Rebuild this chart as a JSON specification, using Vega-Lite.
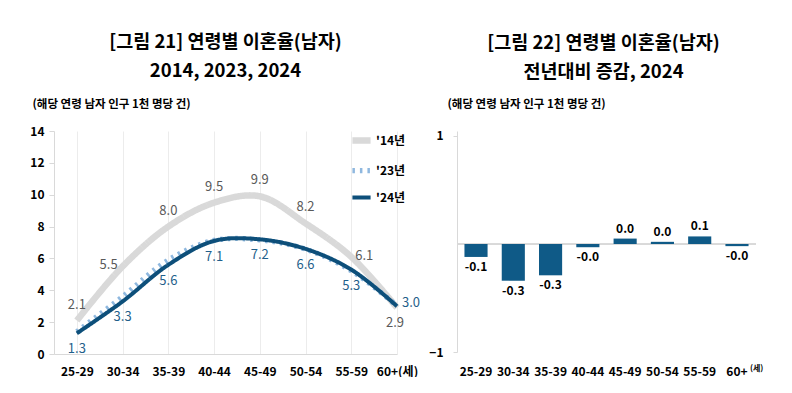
{
  "$schema": "https://vega.github.io/schema/vega-lite/v6.json",
  "background": "white",
  "padding": {"left": 29, "top": 32, "right": 0, "bottom": 0},
  "config": {
    "font": "Noto Sans CJK KR",
    "view": {"stroke": null},
    "concat": {"spacing": 7}
  },
  "datasets": {
    "rate": [
      {"age": "25-29", "year": "'14년", "v": 2.1},
      {"age": "30-34", "year": "'14년", "v": 5.5},
      {"age": "35-39", "year": "'14년", "v": 8.0},
      {"age": "40-44", "year": "'14년", "v": 9.5},
      {"age": "45-49", "year": "'14년", "v": 9.9},
      {"age": "50-54", "year": "'14년", "v": 8.2},
      {"age": "55-59", "year": "'14년", "v": 6.1},
      {"age": "60+", "year": "'14년", "v": 2.9},
      {"age": "25-29", "year": "'23년", "v": 1.4},
      {"age": "30-34", "year": "'23년", "v": 3.6},
      {"age": "35-39", "year": "'23년", "v": 5.9},
      {"age": "40-44", "year": "'23년", "v": 7.13},
      {"age": "45-49", "year": "'23년", "v": 7.16},
      {"age": "50-54", "year": "'23년", "v": 6.58},
      {"age": "55-59", "year": "'23년", "v": 5.23},
      {"age": "60+", "year": "'23년", "v": 3.02},
      {"age": "25-29", "year": "'24년", "v": 1.3},
      {"age": "30-34", "year": "'24년", "v": 3.3},
      {"age": "35-39", "year": "'24년", "v": 5.6},
      {"age": "40-44", "year": "'24년", "v": 7.1},
      {"age": "45-49", "year": "'24년", "v": 7.2},
      {"age": "50-54", "year": "'24년", "v": 6.6},
      {"age": "55-59", "year": "'24년", "v": 5.3},
      {"age": "60+", "year": "'24년", "v": 3.0}
    ],
    "diff": [
      {"age": "25-29", "d": -0.12, "label": "-0.1"},
      {"age": "30-34", "d": -0.34, "label": "-0.3"},
      {"age": "35-39", "d": -0.29, "label": "-0.3"},
      {"age": "40-44", "d": -0.03, "label": "-0.0"},
      {"age": "45-49", "d": 0.05, "label": "0.0"},
      {"age": "50-54", "d": 0.02, "label": "0.0"},
      {"age": "55-59", "d": 0.07, "label": "0.1"},
      {"age": "60+", "d": -0.02, "label": "-0.0"}
    ]
  },
  "hconcat": [
    {
      "width": 343,
      "height": 223,
      "title": {
        "text": ["[그림  21]  연령별  이혼율(남자)", "2014, 2023, 2024"],
        "fontSize": 18.5,
        "fontWeight": "bold",
        "color": "#000000",
        "lineHeight": 29,
        "offset": 18
      },
      "data": {"name": "rate"},
      "encoding": {
        "x": {
          "field": "age",
          "type": "ordinal",
          "sort": null,
          "scale": {"type": "point", "padding": 0.25, "align": 1},
          "axis": {
            "title": null,
            "labelAngle": 0,
            "ticks": false,
            "domainColor": "#d9d9d9",
            "grid": true,
            "gridColor": "#ececec",
            "labelFontSize": 12,
            "labelFontWeight": "bold",
            "labelColor": "#000000",
            "labelPadding": 12,
            "labelExpr": "datum.value == '60+' ? '60+(세)' : datum.value"
          }
        },
        "y": {
          "field": "v",
          "type": "quantitative",
          "scale": {"domain": [0, 14], "nice": false},
          "axis": {
            "values": [0, 2, 4, 6, 8, 10, 12, 14],
            "grid": false,
            "domainColor": "#d9d9d9",
            "tickColor": "#d9d9d9",
            "tickSize": 5,
            "labelFontSize": 12,
            "labelFontWeight": "bold",
            "labelColor": "#000000",
            "labelPadding": 5,
            "title": "(해당 연령 남자 인구 1천 명당 건)",
            "titleAngle": 0,
            "titleAlign": "left",
            "titleBaseline": "middle",
            "titleX": -22,
            "titleY": -27,
            "titleFontSize": 11.5,
            "titleFontWeight": "bold",
            "titleColor": "#000000"
          }
        }
      },
      "layer": [
        {
          "mark": {"type": "line", "interpolate": "catmull-rom", "strokeCap": "butt"},
          "encoding": {
            "color": {
              "field": "year",
              "type": "nominal",
              "scale": {"domain": ["'14년", "'23년", "'24년"], "range": ["#d9d9d9", "#8fb8df", "#0d4f7a"]},
              "legend": {
                "title": null,
                "orient": "none",
                "legendX": 295,
                "legendY": -3,
                "symbolType": "stroke",
                "symbolSize": 330,
                "labelFontSize": 12,
                "labelFontWeight": "bold",
                "labelColor": "#000000",
                "rowPadding": 4.5,
                "labelOffset": 2
              }
            },
            "strokeDash": {
              "field": "year",
              "type": "nominal",
              "scale": {"domain": ["'14년", "'23년", "'24년"], "range": [[1, 0], [2.5, 5], [1, 0]]},
              "legend": {
                "title": null,
                "orient": "none",
                "legendX": 295,
                "legendY": -3,
                "symbolType": "stroke",
                "symbolSize": 330,
                "labelFontSize": 12,
                "labelFontWeight": "bold",
                "labelColor": "#000000",
                "rowPadding": 4.5,
                "labelOffset": 2
              }
            },
            "strokeWidth": {
              "field": "year",
              "type": "nominal",
              "scale": {"domain": ["'14년", "'23년", "'24년"], "range": [6.5, 4, 5.5]},
              "legend": {
                "title": null,
                "orient": "none",
                "legendX": 295,
                "legendY": -3,
                "symbolType": "stroke",
                "symbolSize": 330,
                "labelFontSize": 12,
                "labelFontWeight": "bold",
                "labelColor": "#000000",
                "rowPadding": 4.5,
                "labelOffset": 2
              }
            }
          }
        },
        {
          "transform": [{"filter": "datum.year == \"'14년\" && datum.age != '30-34' && datum.age != '55-59' && datum.age != '60+'"}],
          "mark": {"type": "text", "dy": -16, "fontSize": 13, "color": "#595959"},
          "encoding": {"text": {"field": "v", "type": "quantitative", "format": ".1f"}}
        },
        {
          "transform": [{"filter": "datum.year == \"'14년\" && datum.age == '30-34'"}],
          "mark": {"type": "text", "dx": -14, "dy": -1, "fontSize": 13, "color": "#595959"},
          "encoding": {"text": {"field": "v", "type": "quantitative", "format": ".1f"}}
        },
        {
          "transform": [{"filter": "datum.year == \"'14년\" && datum.age == '55-59'"}],
          "mark": {"type": "text", "dx": 13, "dy": -1, "fontSize": 13, "color": "#595959"},
          "encoding": {"text": {"field": "v", "type": "quantitative", "format": ".1f"}}
        },
        {
          "transform": [{"filter": "datum.year == \"'14년\" && datum.age == '60+'"}],
          "mark": {"type": "text", "dx": -2, "dy": 15, "fontSize": 13, "color": "#595959"},
          "encoding": {"text": {"field": "v", "type": "quantitative", "format": ".1f"}}
        },
        {
          "transform": [{"filter": "datum.year == \"'24년\" && datum.age != '60+'"}],
          "mark": {"type": "text", "dy": 16, "fontSize": 13, "color": "#1f5f8b"},
          "encoding": {"text": {"field": "v", "type": "quantitative", "format": ".1f"}}
        },
        {
          "transform": [{"filter": "datum.year == \"'24년\" && datum.age == '60+'"}],
          "mark": {"type": "text", "dx": 14, "dy": -3, "fontSize": 13, "color": "#1f5f8b"},
          "encoding": {"text": {"field": "v", "type": "quantitative", "format": ".1f"}}
        }
      ]
    },
    {
      "width": 299,
      "height": 221,
      "title": {
        "text": ["[그림  22]  연령별  이혼율(남자)", "전년대비  증감,  2024"],
        "fontSize": 18.5,
        "fontWeight": "bold",
        "color": "#000000",
        "lineHeight": 29,
        "offset": 17,
        "dx": -3
      },
      "data": {"name": "diff"},
      "layer": [
        {
          "mark": {"type": "rule", "color": "#d9d9d9"},
          "encoding": {"y": {"datum": 0, "type": "quantitative"}}
        },
        {
          "mark": {"type": "bar", "color": "#0f5a87"},
          "encoding": {
            "x": {
              "field": "age",
              "type": "nominal",
              "sort": null,
              "scale": {"paddingInner": 0.38, "paddingOuter": 0.2},
              "axis": {
                "title": null,
                "labelAngle": 0,
                "ticks": false,
                "domain": false,
                "labelFontSize": 12,
                "labelFontWeight": "bold",
                "labelColor": "#000000",
                "labelPadding": 14
              }
            },
            "y": {
              "field": "d",
              "type": "quantitative",
              "scale": {"domain": [-1, 1.046], "nice": false},
              "axis": {
                "values": [-1, 0, 1],
                "format": "d",
                "grid": false,
                "domainColor": "#d9d9d9",
                "tickColor": "#d9d9d9",
                "tickSize": 4,
                "labelFontSize": 12,
                "labelFontWeight": "bold",
                "labelColor": "#000000",
                "labelPadding": 10,
                "title": "(해당 연령 남자 인구 1천 명당 건)",
                "titleAngle": 0,
                "titleAlign": "left",
                "titleBaseline": "middle",
                "titleX": -10,
                "titleY": -27,
                "titleFontSize": 11.5,
                "titleFontWeight": "bold",
                "titleColor": "#000000"
              }
            }
          }
        },
        {
          "transform": [{"filter": "datum.d >= 0"}],
          "mark": {"type": "text", "baseline": "bottom", "dy": -3, "fontSize": 12, "fontWeight": "bold", "color": "#000000"},
          "encoding": {
            "x": {"field": "age", "type": "nominal", "sort": null},
            "y": {"field": "d", "type": "quantitative"},
            "text": {"field": "label"}
          }
        },
        {
          "transform": [{"filter": "datum.d < 0"}],
          "mark": {"type": "text", "baseline": "top", "dy": 5, "fontSize": 12, "fontWeight": "bold", "color": "#000000"},
          "encoding": {
            "x": {"field": "age", "type": "nominal", "sort": null},
            "y": {"field": "d", "type": "quantitative"},
            "text": {"field": "label"}
          }
        },
        {
          "transform": [{"filter": "datum.age == '60+'"}],
          "mark": {"type": "text", "baseline": "middle", "align": "left", "dx": 13, "dy": 17, "fontSize": 8, "fontWeight": "bold", "color": "#000000"},
          "encoding": {
            "x": {"field": "age", "type": "nominal", "sort": null},
            "y": {"datum": -1, "type": "quantitative"},
            "text": {"value": "(세)"}
          }
        }
      ]
    }
  ]
}
